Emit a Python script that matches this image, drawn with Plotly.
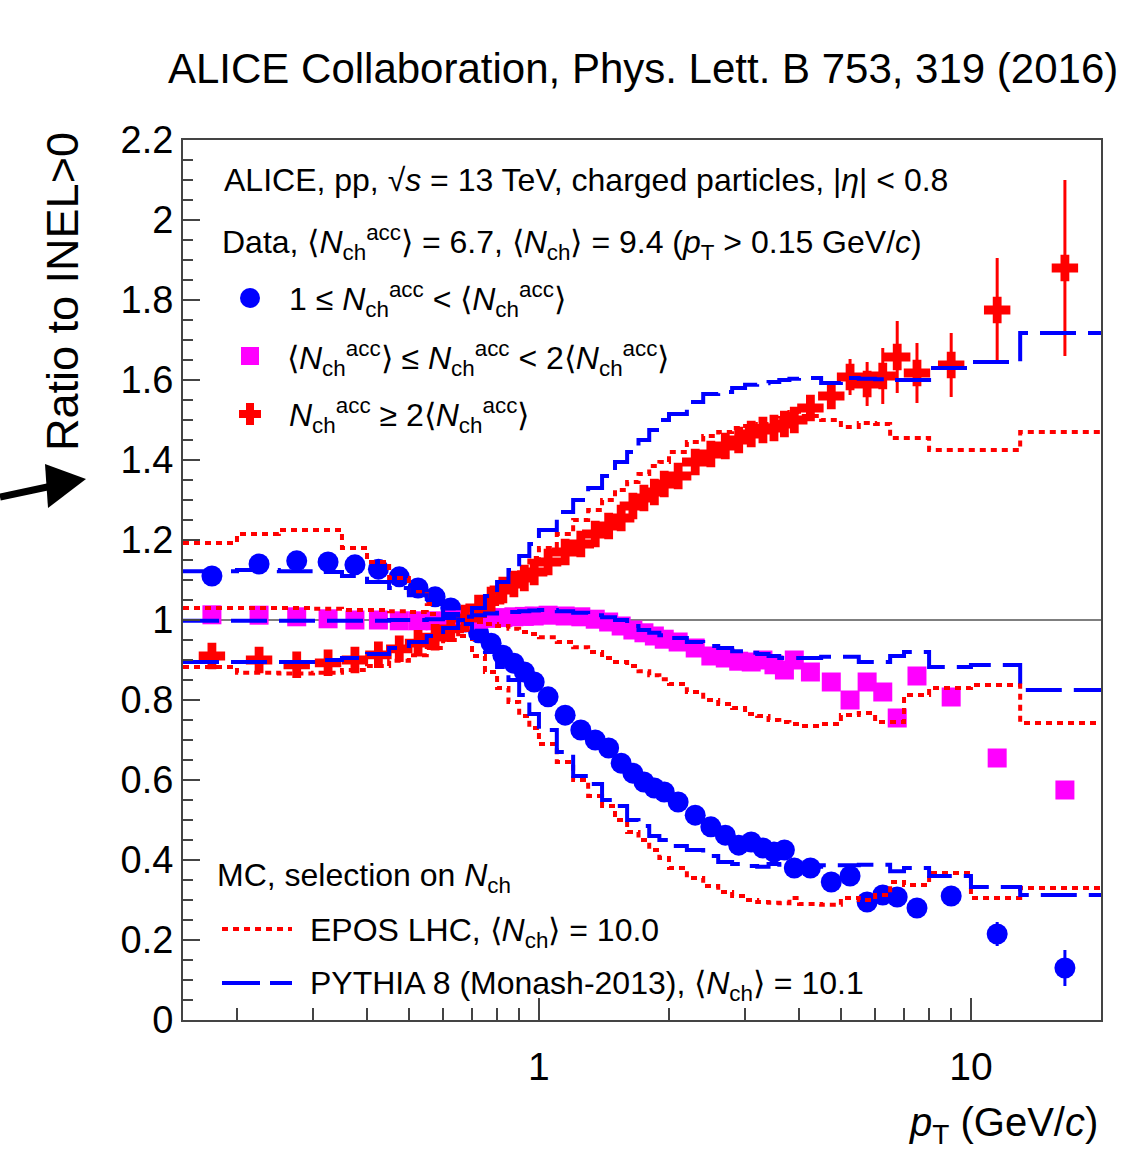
import plotly.graph_objects as go

# ---------------- data ----------------
pt_edges = [0.15, 0.2, 0.25, 0.3, 0.35, 0.4, 0.45, 0.5, 0.55, 0.6, 0.65, 0.7, 0.75, 0.8,
            0.85, 0.9, 0.95, 1.0, 1.1, 1.2, 1.3, 1.4, 1.5, 1.6, 1.7, 1.8, 1.9, 2.0, 2.2,
            2.4, 2.6, 2.8, 3.0, 3.2, 3.4, 3.6, 3.8, 4.0, 4.5, 5.0, 5.5, 6.0, 6.5, 7.0,
            8.0, 10.0, 13.0, 20.0]
pt_centers = [0.175, 0.225, 0.275, 0.325, 0.375, 0.425, 0.475, 0.525, 0.575, 0.625, 0.675,
              0.725, 0.775, 0.825, 0.875, 0.925, 0.975, 1.05, 1.15, 1.25, 1.35, 1.45, 1.55,
              1.65, 1.75, 1.85, 1.95, 2.1, 2.3, 2.5, 2.7, 2.9, 3.1, 3.3, 3.5, 3.7, 3.9,
              4.25, 4.75, 5.25, 5.75, 6.25, 6.75, 7.5, 9.0, 11.5, 16.5]

# data: 1 <= Nacc < <Nacc>
low_vals = [1.11, 1.14, 1.148, 1.145, 1.138, 1.127, 1.108, 1.08, 1.058, 1.03, 0.995, 0.968,
            0.942, 0.912, 0.892, 0.87, 0.845, 0.808, 0.762, 0.725, 0.70, 0.68, 0.642, 0.617,
            0.595, 0.58, 0.57, 0.545, 0.512, 0.483, 0.462, 0.437, 0.445, 0.43, 0.42, 0.425,
            0.38, 0.38, 0.345, 0.36, 0.295, 0.3125, 0.3075, 0.28, 0.31, 0.215, 0.13]
low_errs = [0]*41 + [0.005, 0.008, 0.01, 0.015, 0.03, 0.045]

# data: <Nacc> <= Nacc < 2<Nacc>
mid_vals = [1.013, 1.012, 1.008, 1.003, 1.0, 1.0, 0.998, 0.998, 0.998, 1.0, 1.0, 1.002,
            1.004, 1.006, 1.008, 1.009, 1.01, 1.012, 1.01, 1.008, 1.002, 0.995, 0.985, 0.975,
            0.968, 0.96, 0.952, 0.945, 0.93, 0.91, 0.905, 0.897, 0.895, 0.9, 0.888, 0.875,
            0.9, 0.87, 0.845, 0.80, 0.845, 0.82, 0.755, 0.86, 0.8075, 0.655, 0.575]
mid_errs = [0]*41 + [0.01, 0.015, 0.015, 0.015, 0.01, 0.01]

# data: Nacc >= 2<Nacc>
high_vals = [0.91, 0.90, 0.888, 0.893, 0.90, 0.913, 0.928, 0.942, 0.957, 0.978, 1.005, 1.03,
             1.05, 1.075, 1.09, 1.105, 1.12, 1.145, 1.17, 1.19, 1.215, 1.235, 1.255, 1.285,
             1.305, 1.32, 1.34, 1.36, 1.395, 1.415, 1.435, 1.45, 1.465, 1.475, 1.48, 1.49,
             1.50, 1.53, 1.56, 1.6075, 1.59, 1.61, 1.6575, 1.6175, 1.6375, 1.775, 1.88]
high_errs = [0]*37 + [0.015, 0.025, 0.045, 0.055, 0.07, 0.09, 0.075, 0.08, 0.13, 0.22]

# EPOS LHC (per bin)
epos_low = [1.1925, 1.215, 1.225, 1.225, 1.18, 1.145, 1.105, 1.07, 1.04, 1.015, 0.96, 0.91,
            0.87, 0.83, 0.795, 0.76, 0.73, 0.69, 0.645, 0.60, 0.56, 0.535, 0.50, 0.47, 0.45,
            0.425, 0.405, 0.38, 0.355, 0.335, 0.32, 0.31, 0.30, 0.295, 0.293, 0.292, 0.305,
            0.29, 0.288, 0.305, 0.30, 0.3125, 0.345, 0.3375, 0.3675, 0.305, 0.33]
epos_mid = [1.03, 1.03, 1.03, 1.028, 1.025, 1.025, 1.022, 1.02, 1.015, 1.01, 1.003, 0.995,
            0.99, 0.985, 0.978, 0.97, 0.965, 0.957, 0.945, 0.932, 0.92, 0.905, 0.895, 0.885,
            0.872, 0.862, 0.852, 0.84, 0.82, 0.80, 0.79, 0.78, 0.765, 0.76, 0.75, 0.745,
            0.74, 0.735, 0.74, 0.7625, 0.7675, 0.745, 0.745, 0.8125, 0.83, 0.8375, 0.7425]
epos_high = [0.8825, 0.868, 0.866, 0.868, 0.875, 0.885, 0.898, 0.912, 0.93, 0.95, 0.975,
             1.01, 1.04, 1.075, 1.105, 1.13, 1.155, 1.18, 1.215, 1.25, 1.275, 1.30, 1.325,
             1.345, 1.365, 1.385, 1.395, 1.42, 1.445, 1.46, 1.47, 1.48, 1.485, 1.49, 1.495,
             1.505, 1.52, 1.51, 1.50, 1.4825, 1.4925, 1.49, 1.455, 1.455, 1.425, 1.425, 1.47]

# PYTHIA 8 Monash-2013 (per bin)
pyth_low = [1.122, 1.125, 1.122, 1.12, 1.11, 1.095, 1.08, 1.062, 1.04, 1.015, 0.99, 0.955,
            0.92, 0.8825, 0.85, 0.8125, 0.765, 0.725, 0.67, 0.61, 0.59, 0.55, 0.535, 0.50,
            0.485, 0.46, 0.45, 0.435, 0.425, 0.41, 0.395, 0.39, 0.385, 0.383, 0.39, 0.388,
            0.385, 0.383, 0.387, 0.387, 0.388, 0.388, 0.372, 0.38, 0.36, 0.3325, 0.3125]
pyth_mid = [0.998, 0.998, 0.998, 0.998, 0.998, 0.998, 1.0, 1.0, 1.002, 1.005, 1.008, 1.012,
            1.016, 1.018, 1.02, 1.022, 1.024, 1.025, 1.022, 1.018, 1.012, 1.007, 1.0, 0.985,
            0.975, 0.968, 0.962, 0.955, 0.945, 0.935, 0.93, 0.922, 0.918, 0.915, 0.91, 0.905,
            0.905, 0.905, 0.908, 0.908, 0.895, 0.895, 0.91, 0.92, 0.8825, 0.8875, 0.825]
pyth_high = [0.895, 0.895, 0.895, 0.9, 0.905, 0.915, 0.93, 0.945, 0.96, 0.98, 1.0, 1.03,
             1.06, 1.095, 1.125, 1.16, 1.19, 1.225, 1.27, 1.30, 1.33, 1.36, 1.395, 1.42,
             1.45, 1.475, 1.50, 1.515, 1.545, 1.565, 1.57, 1.58, 1.588, 1.592, 1.595, 1.60,
             1.603, 1.605, 1.5925, 1.605, 1.603, 1.602, 1.60, 1.60, 1.63, 1.645, 1.7175]

x_major_ticks = [1, 10]
x_major_labels = ["1", "10"]
x_minor_ticks = [0.2, 0.3, 0.4, 0.5, 0.6, 0.7, 0.8, 0.9, 2, 3, 4, 5, 6, 7, 8, 9, 20]

# ---------------- styling helpers ----------------
FONT = "Liberation Sans, Arial, Helvetica, sans-serif"
W, H = 1125, 1152
L, R, T, B = 183, 24, 140, 132
PW, PH = W - L - R, H - T - B

def px(x):
    return (x - L) / PW

def py(y):
    return (H - B - y) / PH

BLUE = "#0000ff"
MAGENTA = "#ff00ff"
RED = "#ff0000"
DOT = "6px,5px"
DASH = "36px,12px"

fig = go.Figure()

# data points
for vals, errs, col, sym, size in [
    (low_vals, low_errs, BLUE, "circle", 21),
    (mid_vals, mid_errs, MAGENTA, "square", 19),
    (high_vals, high_errs, RED, "cross", 22),
]:
    fig.add_trace(go.Scatter(
        x=pt_centers, y=vals, mode="markers",
        marker=dict(symbol=sym, size=size, color=col, line=dict(width=0)),
        error_y=dict(type="data", array=errs, color=col, thickness=3, width=0),
        showlegend=False, hoverinfo="skip"))

# MC histograms as steps
for vals, col, dash in [
    (epos_low, RED, DOT), (epos_mid, RED, DOT), (epos_high, RED, DOT),
    (pyth_low, BLUE, DASH), (pyth_mid, BLUE, DASH), (pyth_high, BLUE, DASH),
]:
    fig.add_trace(go.Scatter(
        x=pt_edges, y=list(vals) + [vals[-1]], mode="lines",
        line=dict(shape="hv", color=col, width=4, dash=dash),
        showlegend=False, hoverinfo="skip"))

AX = "#444444"
fig.update_xaxes(
    type="log", range=[-0.82391, 1.30103],
    showline=True, linecolor=AX, linewidth=2, mirror=True,
    showgrid=False, zeroline=False,
    tickvals=x_major_ticks, ticktext=x_major_labels,
    ticks="inside", ticklen=22, tickwidth=1.5, tickcolor=AX,
    ticklabelstandoff=11,
    tickfont=dict(family=FONT, size=39, color="black"),
    minor=dict(tickvals=x_minor_ticks, ticks="inside", ticklen=12,
               tickwidth=1.5, tickcolor=AX, showgrid=False),
)
fig.update_yaxes(
    range=[0, 2.2], tick0=0, dtick=0.2,
    showline=True, linecolor=AX, linewidth=2, mirror=True,
    showgrid=False, zeroline=False,
    ticks="inside", ticklen=17, tickwidth=1.5, tickcolor=AX,
    tickfont=dict(family=FONT, size=38, color="black"),
    minor=dict(dtick=0.05, ticks="inside", ticklen=10, tickwidth=1.5,
               tickcolor=AX, showgrid=False),
)

shapes = []
# reference line at 1
shapes.append(dict(type="line", xref="paper", yref="y", x0=0, x1=1, y0=1, y1=1,
                   line=dict(color="#555555", width=1.5), layer="below"))
# legend symbols
shapes.append(dict(type="circle", xref="paper", yref="paper",
                   x0=px(240), x1=px(260), y0=py(308), y1=py(288),
                   fillcolor=BLUE, line=dict(width=0)))
shapes.append(dict(type="rect", xref="paper", yref="paper",
                   x0=px(241), x1=px(259), y0=py(365), y1=py(347),
                   fillcolor=MAGENTA, line=dict(width=0)))
cx, cy, a, b = 250, 414, 11, 4
pts = [(cx - b, cy - a), (cx + b, cy - a), (cx + b, cy - b), (cx + a, cy - b),
       (cx + a, cy + b), (cx + b, cy + b), (cx + b, cy + a), (cx - b, cy + a),
       (cx - b, cy + b), (cx - a, cy + b), (cx - a, cy - b), (cx - b, cy - b)]
path = "M " + " L ".join(f"{px(p[0]):.5f},{py(p[1]):.5f}" for p in pts) + " Z"
shapes.append(dict(type="path", xref="paper", yref="paper", path=path,
                   fillcolor=RED, line=dict(width=0)))
shapes.append(dict(type="line", xref="paper", yref="paper",
                   x0=px(222), x1=px(292), y0=py(929), y1=py(929),
                   line=dict(color=RED, width=4, dash=DOT)))
shapes.append(dict(type="line", xref="paper", yref="paper",
                   x0=px(222), x1=px(292), y0=py(983), y1=py(983),
                   line=dict(color=BLUE, width=4, dash="38px,10px")))
# arrow on the left
shapes.append(dict(type="line", xref="paper", yref="paper",
                   x0=px(0), y0=py(497), x1=px(52), y1=py(486),
                   line=dict(color="black", width=7)))
tri = [(86, 479), (45, 464), (48, 508)]
shapes.append(dict(type="path", xref="paper", yref="paper",
                   path="M " + " L ".join(f"{px(p[0]):.5f},{py(p[1]):.5f}" for p in tri) + " Z",
                   fillcolor="black", line=dict(width=0)))

Nacc = "<i>N</i><sub>ch</sub><sup>acc</sup>"
Nch = "<i>N</i><sub>ch</sub>"
texts = [
    ("ALICE Collaboration, Phys. Lett. B 753, 319 (2016)", 166, 68, 42, "left"),
    ("ALICE, pp, √<i>s</i> = 13 TeV, charged particles, |<i>η</i>| &lt; 0.8", 222, 180, 32, "left"),
    (f"Data, ⟨{Nacc}⟩ = 6.7, ⟨{Nch}⟩ = 9.4 (<i>p</i><sub>T</sub> &gt; 0.15 GeV/<i>c</i>)", 220, 242, 32, "left"),
    (f"1 ≤ {Nacc} &lt; ⟨{Nacc}⟩", 287, 300, 32, "left"),
    (f"⟨{Nacc}⟩ ≤ {Nacc} &lt; 2⟨{Nacc}⟩", 285, 358, 32, "left"),
    (f"{Nacc} ≥ 2⟨{Nacc}⟩", 287, 416, 32, "left"),
    (f"MC, selection on {Nch}", 215, 877, 32, "left"),
    (f"EPOS LHC, ⟨{Nch}⟩ = 10.0", 308, 932, 32, "left"),
    (f"PYTHIA 8 (Monash-2013), ⟨{Nch}⟩ = 10.1", 308, 985, 32, "left"),
    ("<i>p</i><sub>T</sub> (GeV/<i>c</i>)", 1100, 1125, 40, "right"),
]
annotations = []
for txt, x, y, size, anchor in texts:
    annotations.append(dict(text=txt, xref="paper", yref="paper", x=px(x), y=py(y),
                            xanchor=anchor, yanchor="middle", showarrow=False,
                            font=dict(family=FONT, size=size, color="black")))
annotations.append(dict(text="Ratio to INEL&gt;0", xref="paper", yref="paper",
                        x=px(62), y=py(292), xanchor="center", yanchor="middle",
                        textangle=-90, showarrow=False,
                        font=dict(family=FONT, size=45, color="black")))

fig.update_layout(
    width=W, height=H,
    margin=dict(l=L, r=R, t=T, b=B),
    paper_bgcolor="white", plot_bgcolor="white",
    showlegend=False,
    shapes=shapes, annotations=annotations,
)

fig.write_html("out.html")
